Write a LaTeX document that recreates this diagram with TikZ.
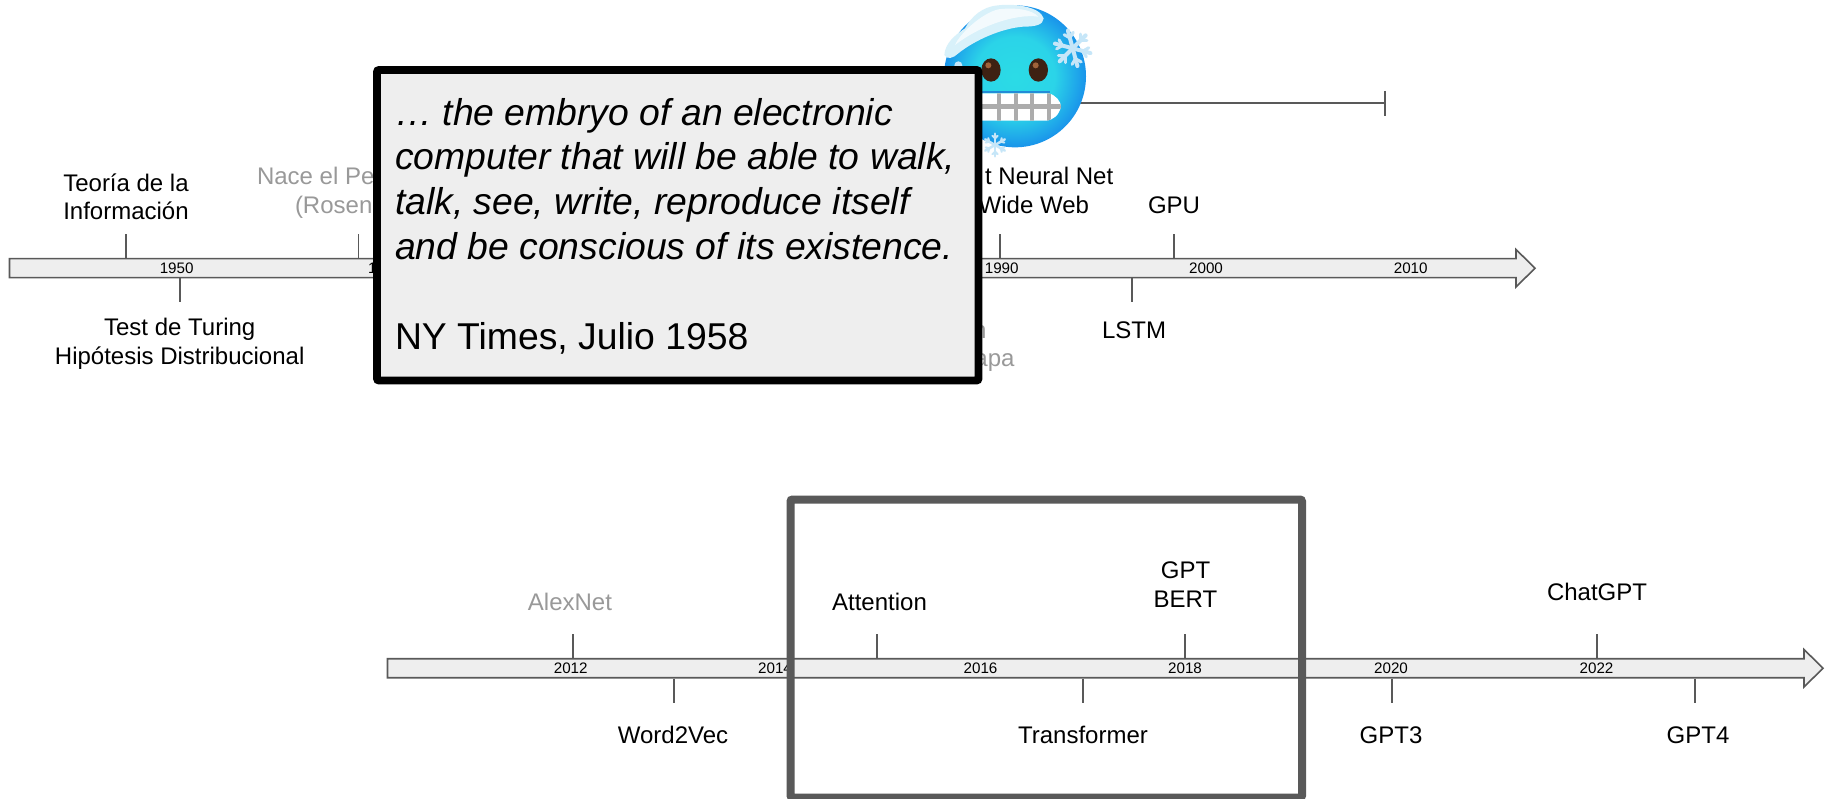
\documentclass[tikz,border=0pt]{standalone}
\usepackage{fontspec}
\setmainfont{Liberation Sans}
\pgfdeclareradialshading{emojiface}{\pgfpoint{0bp}{0bp}}{rgb(0bp)=(.17,.86,.90); rgb(14bp)=(.17,.83,.91); rgb(25bp)=(.10,.58,.92); rgb(50bp)=(.10,.58,.92)}
\definecolor{linegrey}{HTML}{595959}
\definecolor{barfill}{HTML}{EEEEEE}
\definecolor{fadetext}{HTML}{999999}
\definecolor{flake}{HTML}{C6E6F8}
\definecolor{snow}{HTML}{D8F1FA}
\definecolor{mouthedge}{HTML}{228CD7}
\definecolor{eyebrown}{HTML}{3E2112}
\definecolor{eyeglint}{HTML}{A0623A}
\tikzset{
  axisbar/.style={draw=linegrey,fill=barfill,line width=1.6pt,line join=miter},
  tickline/.style={draw=linegrey,line width=1.7pt},
  lbl/.style={inner sep=0pt,outer sep=0pt,anchor=base,align=center,text=black,font=\fontsize{24}{28.8}\selectfont},
  faded/.style={lbl,text=fadetext},
  yearlbl/.style={inner sep=0pt,outer sep=0pt,anchor=base,text=black,font=\fontsize{15.2}{17}\selectfont},
  quotebox/.style={draw=black,fill=barfill,line width=7.8pt,rounded corners=2pt,outer sep=0pt,anchor=north west,
    minimum width=601.5pt,minimum height=310.5pt,inner sep=0pt},
  quotetext/.style={inner sep=0pt,outer sep=0pt,anchor=base west,align=left,text=black,
    font=\fontsize{37.33}{44.8}\selectfont\itshape},
  framebox/.style={draw=linegrey,line width=8pt,rounded corners=2pt},
  flakearm/.style={draw=flake,line width=3pt,line cap=round}
}
\begin{document}
\begin{tikzpicture}[x=1pt,y=-1pt]
\useasboundingbox (0,0) rectangle (1834,799);
\fill[white] (0,0) rectangle (1834,799);

% winter span line (behind the emoji)
\coordinate (spanstart) at (1030,103);
\coordinate (spanend) at (1385,103);
\coordinate (spancapa) at (1385,91);
\coordinate (spancapb) at (1385,116);
\draw[tickline] (spanstart) -- (spanend);
\draw[tickline] (spancapa) -- (spancapb);

% axes
\draw[axisbar] (9.5,258.7) -- (1516,258.7) -- (1516,249.5) -- (1535,268.2) -- (1516,287) -- (1516,277.7) -- (9.5,277.7) -- cycle;
\draw[axisbar] (387.5,658.7) -- (1804,658.7) -- (1804,649.5) -- (1823,668.2) -- (1804,687) -- (1804,677.7) -- (387.5,677.7) -- cycle;

% ticks, top axis
\foreach \n/\tx in {ta/126,tb/358.5,tc/1000,td/1174}{
  \coordinate (\n1) at (\tx,234.5);
  \coordinate (\n2) at (\tx,258);
  \draw[tickline] (\n1) -- (\n2);
}
\foreach \n/\tx in {te/180,tf/1131.7}{
  \coordinate (\n1) at (\tx,278.5);
  \coordinate (\n2) at (\tx,302.5);
  \draw[tickline] (\n1) -- (\n2);
}
% ticks, bottom axis
\foreach \n/\tx in {ba/573,bb/877,bc/1185,bd/1597}{
  \coordinate (\n1) at (\tx,634);
  \coordinate (\n2) at (\tx,658);
  \draw[tickline] (\n1) -- (\n2);
}
\foreach \n/\tx in {be/674,bf/1083,bg/1392,bh/1695}{
  \coordinate (\n1) at (\tx,678.5);
  \coordinate (\n2) at (\tx,703);
  \draw[tickline] (\n1) -- (\n2);
}

% years
\node[yearlbl] (y1950) at (176.7,273.5) {1950};
\node[yearlbl,anchor=base west] (y1960) at (368,273.5) {1};
\node[yearlbl] (y1990) at (1001.7,273.5) {1990};
\node[yearlbl] (y2000) at (1206,273.5) {2000};
\node[yearlbl] (y2010) at (1410.7,273.5) {2010};
\node[yearlbl] (y2012) at (570.7,673.5) {2012};
\node[yearlbl] (y2014) at (775,673.5) {2014};
\node[yearlbl] (y2016) at (980.5,673.5) {2016};
\node[yearlbl] (y2018) at (1185,673.5) {2018};
\node[yearlbl] (y2020) at (1391,673.5) {2020};
\node[yearlbl] (y2022) at (1596.5,673.5) {2022};

% labels
\node[lbl] (teoria) at (126,220) {Teoría de la\\Información};
\node[lbl] (turing) at (179.7,364.5) {Test de Turing\\Hipótesis Distribucional};
\node[faded,anchor=base west] (nace) at (257,184.5) {Nace el Pe};
\node[faded,anchor=base west] (rosen) at (295,213.3) {(Rosen};
\node[lbl,anchor=base east] (rnn) at (1113.2,184.5) {t Neural Net};
\node[lbl,anchor=base east] (www) at (1089,213.3) {Wide Web};
\node[lbl] (gpu) at (1174,213.3) {GPU};
\node[lbl] (lstm) at (1134,338.3) {LSTM};
\node[faded,anchor=base east] (fragn) at (986.5,338.3) {n};
\node[faded,anchor=base east] (fragapa) at (1014.5,366.5) {apa};
\node[faded] (alexnet) at (570,610) {AlexNet};
\node[lbl] (attention) at (879.5,610) {Attention};
\node[lbl] (gptbert) at (1185.5,607.5) {GPT\\BERT};
\node[lbl] (chatgpt) at (1597,600) {ChatGPT};
\node[lbl] (w2v) at (673,743) {Word2Vec};
\node[lbl] (transformer) at (1083,743) {Transformer};
\node[lbl] (gpt3) at (1391,743) {GPT3};
\node[lbl] (gpt4) at (1698,743) {GPT4};

% highlight frame
\draw[framebox] (790.5,499.5) rectangle (1302,797.5);

% cold-face emoji
\begin{scope}[xshift=935pt,x=.33333pt,y=-.33333pt]
  \shade[shading=emojiface] (240,229) circle[radius=213];
  % snow cap
  \fill[snow] (28,165) .. controls (30,130) and (60,105) .. (90,85)
     .. controls (110,50) and (140,20) .. (190,16)
     .. controls (240,10) and (315,20) .. (326,55)
     .. controls (325,75) and (300,80) .. (265,80)
     .. controls (200,85) and (120,120) .. (70,160)
     .. controls (55,175) and (35,180) .. (28,165) -- cycle;
  \fill[white,opacity=.7] (60,135) .. controls (75,100) and (140,40) .. (190,28)
     .. controls (240,22) and (290,28) .. (310,50)
     .. controls (240,40) and (130,80) .. (60,135) -- cycle;
  % eyes
  \fill[eyebrown] (168,210) ellipse[x radius=29,y radius=35];
  \fill[eyebrown] (310,210) ellipse[x radius=29,y radius=35];
  \fill[eyeglint] (160,196) circle[radius=9];
  \fill[eyeglint] (302,196) circle[radius=9];
  % mouth
  \draw[draw=mouthedge,line width=1.5pt] (140,276) -- (345,276);
  \begin{scope}
    \clip (130,280) -- (340,280) .. controls (362,284) and (378,305) .. (378,320)
       .. controls (372,345) and (355,362) .. (330,362) -- (130,362) -- cycle;
    \fill[white] (130,280) rectangle (380,362);
    \foreach \gx in {192,242,292,342}{\fill[gray!65] (\gx-6,280) rectangle (\gx+6,362);}
    \fill[gray!65] (130,312) rectangle (380,326);
  \end{scope}
  % snowflakes
  \begin{scope}[shift={(413,145)}]
    \foreach \ang in {15,75,...,315}{
      \draw[flakearm,line width=4pt] (0,0) -- (\ang:55);
      \draw[flakearm] (\ang:32) -- +(\ang+45:20);
      \draw[flakearm] (\ang:32) -- +(\ang-45:20);
    }
  \end{scope}
  \begin{scope}[shift={(180,435)}]
    \foreach \ang in {30,90,...,330}{
      \draw[flakearm,line width=2.5pt] (0,0) -- (\ang:34);
      \draw[flakearm,line width=2pt] (\ang:20) -- +(\ang+45:11);
      \draw[flakearm,line width=2pt] (\ang:20) -- +(\ang-45:11);
    }
  \end{scope}
  \fill[flake] (70,196) circle[radius=12];
\end{scope}

% quote box
\node[quotebox] (quote) at (377,70) {};
\node[quotetext] (quotebody) at (395,349.2) {… the embryo of an electronic\\computer that will be able to walk,\\talk, see, write, reproduce itself\\and be conscious of its existence.\\~\\\upshape NY Times, Julio 1958};
\end{tikzpicture}
\end{document}
